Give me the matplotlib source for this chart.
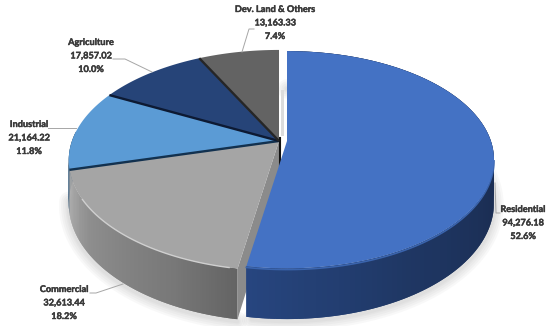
import matplotlib
matplotlib.use('AGG')
import matplotlib.pyplot as plt
import matplotlib.patheffects as pe
from matplotlib.collections import PolyCollection
import numpy as np

categories = ['Residential', 'Commercial', 'Industrial', 'Agriculture', 'Dev. Land & Others']
values = [94276.18, 32613.44, 21164.22, 17857.02, 13163.33]
top_colors = ['#4472c4', '#a5a5a5', '#5b9bd5', '#264478', '#636363']

# where the labels sit, in pixels
label_pos = [(523, 223), (64, 303), (29, 138), (91, 56), (275, 23)]
leaders = [
    [(495, 183), (496, 213), (500, 213)],
    [(90, 293), (96, 293), (123, 284)],
    [(48, 128), (76, 128)],
    [(113, 59), (125, 59), (152, 72)],
    [(242, 52), (249, 29), (254, 29)],
]

# pie projection
CX, CY = 279, 141
A, B, K = 207, 107, 0.175
DEPTH = 42
EXPLODE = (8, 0)
RES_R = 0.985


def project(theta, r=1.0, z=0.0, off=(0, 0)):
    t = np.radians(theta)
    xw = r * np.sin(t)
    yw = -r * np.cos(t)
    w = 1 - K * yw
    return CX + off[0] + A * xw / w, CY + off[1] + (B * yw + z) / w


def hex2rgb(c):
    return np.array(matplotlib.colors.to_rgb(c))


def draw_side(ax, start, end, stops, r=1.0, off=(0, 0), zorder=2):
    th = np.linspace(start, end, 140)
    x0, y0 = project(th, r=r, off=off)
    x1, y1 = project(th, r=r, z=DEPTH, off=off)
    quads = []
    cols = []
    pos = [s[0] for s in stops]
    rgb = np.array([hex2rgb(s[1]) for s in stops])
    for i in range(len(th) - 1):
        # each strip runs over the next one so no seams show
        j = min(i + 2, len(th) - 1)
        quads.append([(x0[i], y0[i]), (x0[j], y0[j]), (x1[j], y1[j]), (x1[i], y1[i])])
        cols.append([np.interp(th[i], pos, rgb[:, c]) for c in range(3)])
    ax.add_collection(PolyCollection(quads, facecolors=cols, edgecolors='none', zorder=zorder))


def top_face(start, end, r=1.0, off=(0, 0)):
    th = np.linspace(start, end, 120)
    x, y = project(th, r=r, off=off)
    ax_pt = project(0.0, r=0.0, off=off)
    return np.column_stack([np.r_[ax_pt[0], x], np.r_[ax_pt[1], y]])


fig = plt.figure(figsize=(5.55, 3.26), dpi=100)
ax = fig.add_axes([0, 0, 1, 1])
ax.set_xlim(0, 555)
ax.set_ylim(326, 0)
ax.axis('off')

total = sum(values)
edges = np.r_[0, np.cumsum(values)] / total * 360

# soft shadow under the pie
th = np.linspace(0, 262, 200)
for lw in [14, 11, 8, 5, 3]:
    sx, sy = project(th[th < edges[1]], r=RES_R, z=DEPTH, off=EXPLODE)
    ax.plot(sx, sy + 2, color='#808080', alpha=0.05, lw=lw, zorder=1, solid_capstyle='round')
    sx, sy = project(th[th >= edges[1]], z=DEPTH)
    ax.plot(sx, sy + 2, color='#808080', alpha=0.05, lw=lw, zorder=1, solid_capstyle='round')

# industrial sliver on the far left
draw_side(ax, edges[2], 275, [(edges[2], '#1f4a70'), (275, '#1f4a70')], zorder=2)

# commercial outer side and cut face
draw_side(ax, edges[1], edges[2], [(edges[1], '#646464'), (205, '#787878'), (235, '#8e8e8e'), (edges[2], '#acacac')], zorder=3)
cx, cy = project(edges[1])
ax_x, ax_y = project(0.0, r=0.0)
ax.fill([ax_x, cx, cx, ax_x], [ax_y, cy, cy + DEPTH / 0.83, ax_y + 45], color='#8b8b8b', lw=0, zorder=3)
ax.plot([ax_x + 1, ax_x + 1], [ax_y - 3, ax_y + 25], color='#111111', lw=1.5, zorder=3)

# faint glow beside the back slice
ax.fill_betweenx([90, 136], ax_x + 2, ax_x + 5, color='#dcdcdc', lw=0, zorder=1)

# flat tops for the four slices that stay in place
for i in [1, 2, 3, 4]:
    ax.fill(*top_face(edges[i], edges[i + 1]).T, color=top_colors[i], lw=0, zorder=4)

# rim highlight on commercial
hx, hy = project(np.linspace(edges[1] + 2, edges[2] - 15, 80))
ax.plot(hx, hy, color='#cfcfcf', lw=1.0, zorder=5)

# dark separators
for i, c in [(2, '#12314f'), (3, '#0d1a33'), (4, '#262626')]:
    sx, sy = project(edges[i])
    ax.plot([ax_x, sx], [ax_y, sy], color=c, lw=1.7, zorder=6, solid_capstyle='butt')

# residential, pulled out of the pie
draw_side(ax, edges[0], edges[1], [(edges[0], '#1a2c50'), (110, '#1b2e54'), (150, '#1f3764'), (edges[1], '#274680')],
          r=RES_R, off=EXPLODE, zorder=7)
ax.fill(*top_face(edges[0], edges[1], r=RES_R, off=EXPLODE).T, color=top_colors[0], lw=0, zorder=8)
hx, hy = project(np.linspace(100, edges[1], 80), r=RES_R, z=1, off=EXPLODE)
ax.plot(hx, hy, color='#3a64ad', lw=1.2, zorder=7.5)

# labels
stroke = [pe.withStroke(linewidth=0.3, foreground='#3a3a3a')]
for name, val, pos, line in zip(categories, values, label_pos, leaders):
    rows = [name, f'{val:,.2f}', f'{val / total * 100:.1f}%']
    for k, row in enumerate(rows):
        ax.text(pos[0], pos[1] + (k - 1) * 13.5, row, ha='center', va='center', fontsize=6.6, family='Lato',
                fontweight='bold', color='#3a3a3a', zorder=10, path_effects=stroke)
    ax.plot([p[0] for p in line], [p[1] for p in line], color='#a6a6a6', lw=0.7, zorder=9)

plt.savefig('out.png', dpi=100)
